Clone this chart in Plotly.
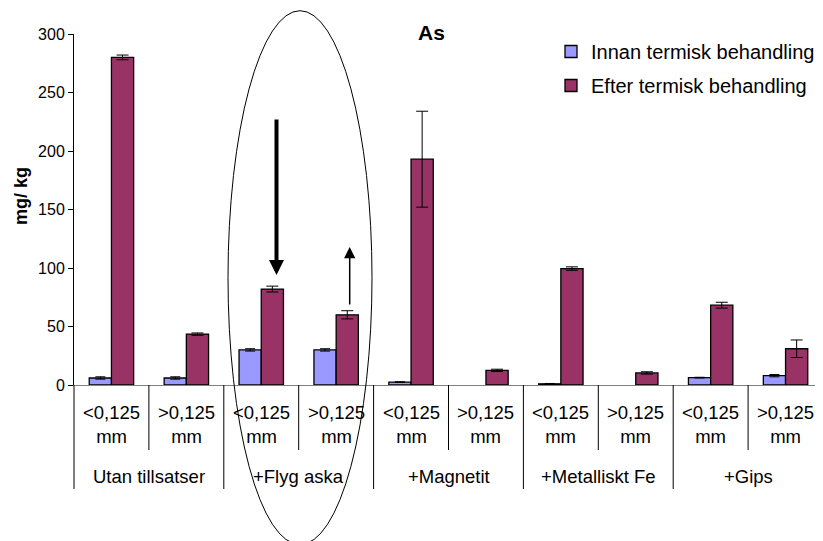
import plotly.graph_objects as go

groups = ["Utan tillsatser", "+Flyg aska", "+Magnetit", "+Metalliskt Fe", "+Gips"]
sizes = ["&lt;0,125<br>mm", "&gt;0,125<br>mm"]
innan = [6, 6, 30, 30, 2.5, None, 1, None, 6.3, 8]
innan_err = [1, 1, 1, 1, 0.3, 0, 0.3, 0, 0.3, 1]
efter = [280, 43.5, 82, 60, 193, 12.5, 99.5, 10.3, 68.2, 31]
efter_err = [2, 1, 2.5, 3.5, 41, 1, 1.5, 1, 2.5, 7.5]
series_names = ["Innan termisk behandling", "Efter termisk behandling"]
yticks = [0, 50, 100, 150, 200, 250, 300]

n = len(innan)
xs = list(range(n))
FONT = "Liberation Sans, Arial, sans-serif"

fig = go.Figure()
fig.add_trace(go.Bar(
    x=xs, y=innan, name=series_names[0], legendgroup="a",
    marker=dict(color="#9999FF", line=dict(color="black", width=1.3)),
    error_y=dict(type="data", array=innan_err, color="black", thickness=1, width=5),
))
fig.add_trace(go.Bar(
    x=xs, y=efter, name=series_names[1], legendgroup="b",
    marker=dict(color="#993366", line=dict(color="black", width=1.3)),
    error_y=dict(type="data", array=efter_err, color="black", thickness=1, width=6),
))

OFF = 8  # page body margin
W, H = 823 - OFF, 541 - OFF
ML, MR, MT, MB = 74 - OFF, 0, 34 - OFF, 156
pw = W - ML - MR
ph = H - MT - MB

def px_x(p):
    # page pixel -> paper
    return (p - OFF - ML) / pw

def px_y(p):
    return (H - MB - (p - OFF)) / ph

shapes = []
annotations = []
# category separators and labels
for i in range(n):
    xp = i / n
    is_group = (i % 2 == 0)
    shapes.append(dict(type="line", xref="paper", yref="paper", ysizemode="pixel",
                       yanchor=0, x0=xp, x1=xp, y0=0, y1=-104 if is_group else -65,
                       line=dict(color="black", width=1)))
for i in range(n):
    annotations.append(dict(x=(i + 0.5) / n, y=0, xref="paper", yref="paper",
                            text=sizes[i % 2], showarrow=False, xanchor="center",
                            yanchor="middle", yshift=-39,
                            font=dict(size=18.5, family=FONT, color="black")))
for g, name in enumerate(groups):
    annotations.append(dict(x=(2 * g + 1) / n, y=0, xref="paper", yref="paper",
                            text=name, showarrow=False, xanchor="center", yanchor="middle",
                            yshift=-91, font=dict(size=18.5, family=FONT, color="black")))

# title
annotations.append(dict(x=px_x(431), y=1, xref="paper", yref="paper", text="<b>As</b>",
                        showarrow=False, xanchor="center", yanchor="middle", yshift=2,
                        font=dict(size=21, family=FONT, color="black")))
# y axis title
annotations.append(dict(x=px_x(21), y=px_y(196), xref="paper", yref="paper", text="<b>mg/ kg</b>",
                        showarrow=False, textangle=-90, xanchor="center", yanchor="middle",
                        font=dict(size=18, family=FONT, color="black")))
# arrows
annotations.append(dict(x=px_x(276.5), y=px_y(275), xref="paper", yref="paper", text="",
                        showarrow=True, ax=0, ay=-157, arrowhead=2, arrowsize=0.75,
                        arrowwidth=4, arrowcolor="black", standoff=0))
annotations.append(dict(x=px_x(349.7), y=px_y(247), xref="paper", yref="paper", text="",
                        showarrow=True, ax=0, ay=59, arrowhead=2, arrowsize=1.5,
                        arrowwidth=1.5, arrowcolor="black", standoff=0))
# ellipse
shapes.append(dict(type="circle", xref="paper", yref="paper",
                   x0=px_x(228), x1=px_x(372), y0=px_y(544.6), y1=px_y(10.7),
                   line=dict(color="black", width=1)))

fig.update_layout(
    width=W, height=H,
    margin=dict(l=ML, r=MR, t=MT, b=MB, pad=0),
    paper_bgcolor="white", plot_bgcolor="white",
    barmode="group", bargap=0.407, bargroupgap=0,
    font=dict(family=FONT, color="black"),
    showlegend=True,
    legend=dict(x=px_x(551), y=px_y(32), xanchor="left", yanchor="top",
                font=dict(size=20, family=FONT, color="black"),
                bgcolor="rgba(0,0,0,0)", tracegroupgap=5, traceorder="grouped",
                itemwidth=30),
    xaxis=dict(range=[-0.5, n - 0.5], showticklabels=False, ticks="", showgrid=False,
               zeroline=False, showline=True, linecolor="#808080", linewidth=1),
    yaxis=dict(range=[0, 300], tickvals=yticks, ticks="outside", ticklen=5,
               tickcolor="black", showgrid=False, zeroline=False, showline=True,
               linecolor="black", linewidth=1, tickfont=dict(size=16, family=FONT, color="black")),
    shapes=shapes, annotations=annotations,
)

fig.write_html("out.html")
